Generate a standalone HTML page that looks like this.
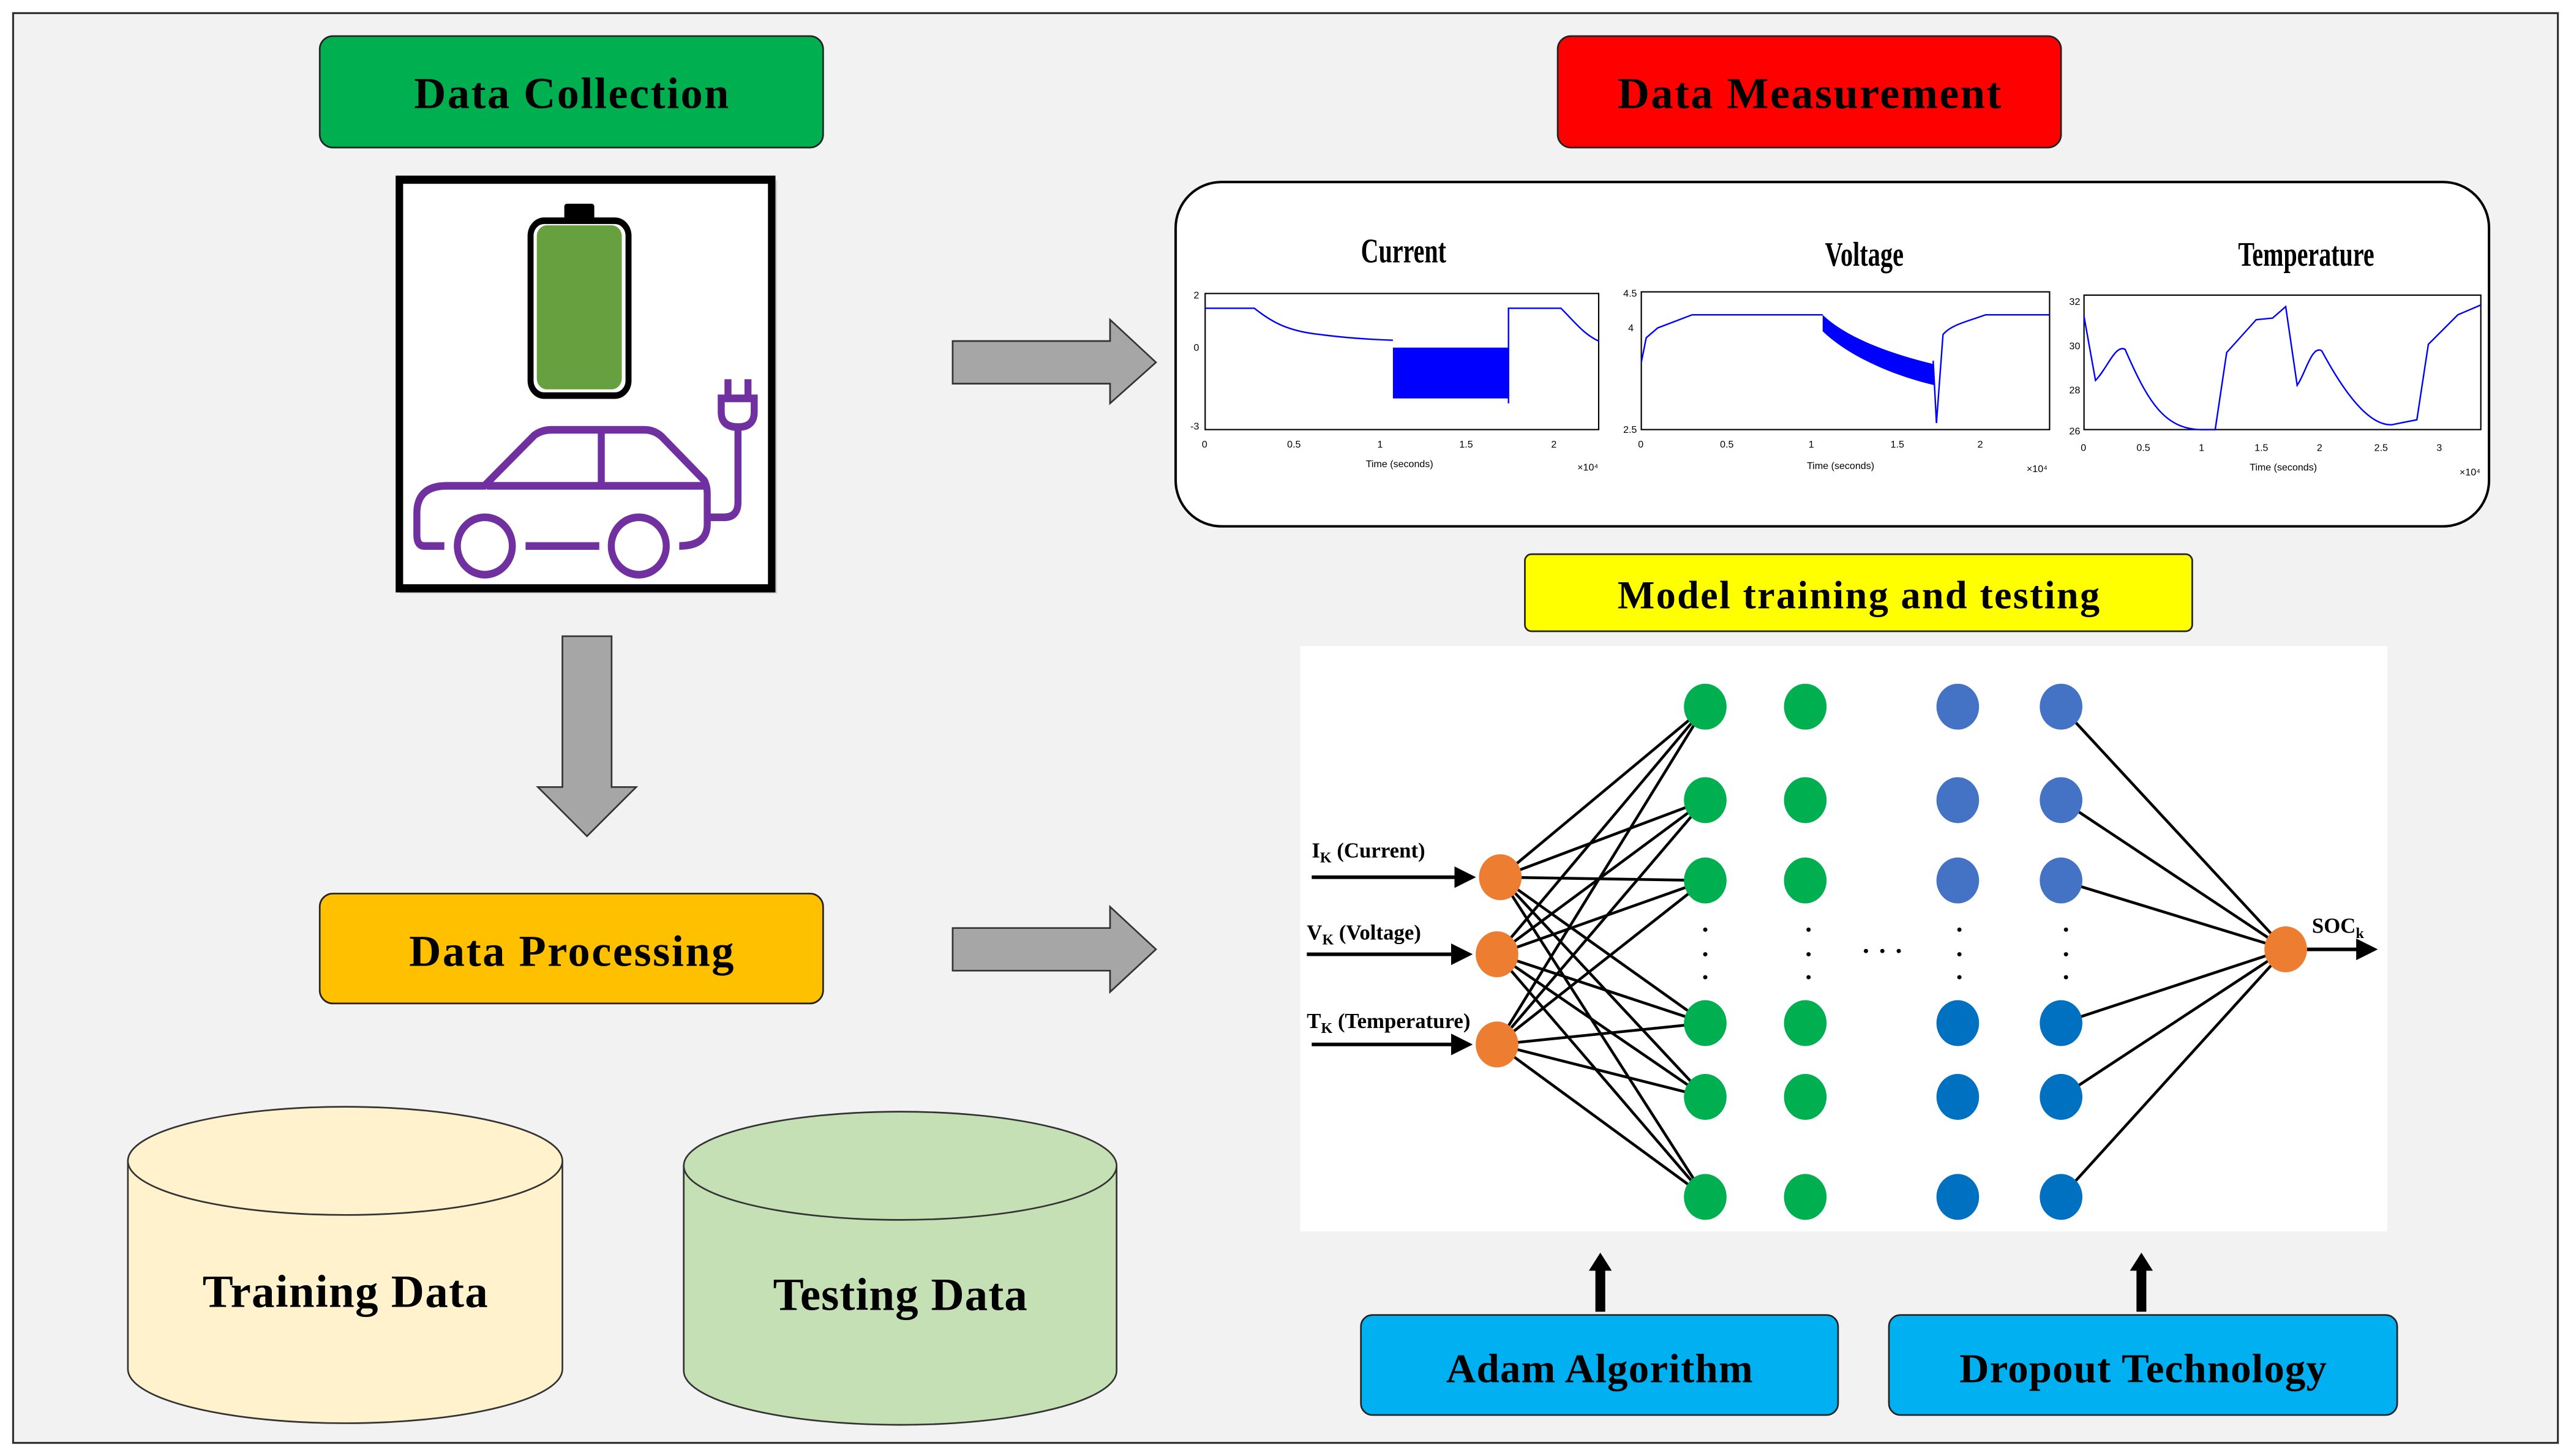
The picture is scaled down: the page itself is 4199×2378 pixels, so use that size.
<!DOCTYPE html>
<html><head><meta charset="utf-8"><style>
html,body{margin:0;padding:0;background:#fff;}
svg{display:block;}
.lbl{font-family:"Liberation Serif",serif;font-weight:bold;fill:#000;}
.tk{font-family:"Liberation Sans",sans-serif;font-size:6px;fill:#000;}
</style></head><body>
<svg width="4199" height="2378" viewBox="0 0 1568 888" preserveAspectRatio="none" xmlns="http://www.w3.org/2000/svg">
<defs>
<marker id="ah" markerWidth="6" markerHeight="6" refX="5" refY="3" orient="auto" markerUnits="strokeWidth"><path d="M0,0 L6,3 L0,6 Z" fill="#000"/></marker>
</defs>
<rect x="0" y="0" width="1568" height="888" fill="#fff"/>
<rect x="8" y="8" width="1552" height="872" fill="#f2f2f2" stroke="#333" stroke-width="1.2"/>

<rect x="195" y="22" width="307" height="68" rx="8" fill="#00b050" stroke="#222" stroke-width="1"/>
<text class="lbl" x="348.5" y="66" font-size="27" text-anchor="middle" textLength="192">Data Collection</text>
<rect x="950" y="22" width="307" height="68" rx="8" fill="#ff0000" stroke="#222" stroke-width="1"/>
<text class="lbl" x="1103.5" y="66" font-size="27" text-anchor="middle" textLength="234">Data Measurement</text>
<rect x="195" y="545" width="307" height="67" rx="8" fill="#ffc000" stroke="#222" stroke-width="1"/>
<text class="lbl" x="348.5" y="589" font-size="27" text-anchor="middle" textLength="198">Data Processing</text>
<rect x="930" y="338" width="407" height="47" rx="4" fill="#ffff00" stroke="#222" stroke-width="1"/>
<text class="lbl" x="1133.5" y="371" font-size="24" text-anchor="middle" textLength="294">Model training and testing</text>
<rect x="830" y="802" width="291" height="61" rx="7" fill="#00b0f0" stroke="#222" stroke-width="1"/>
<text class="lbl" x="975.5" y="843" font-size="25" text-anchor="middle" textLength="187">Adam Algorithm</text>
<rect x="1152" y="802" width="310" height="61" rx="7" fill="#00b0f0" stroke="#222" stroke-width="1"/>
<text class="lbl" x="1307" y="843" font-size="25" text-anchor="middle" textLength="224">Dropout Technology</text>

<rect x="244" y="110" width="230" height="252" fill="#999" opacity="0.35"/>
<g transform="translate(239,104.6) scale(0.1524,0.1667)">
<rect x="30" y="30" width="1490" height="1495" fill="#fff" stroke="#000" stroke-width="30"/>
<rect x="690" y="118" width="120" height="60" rx="10" fill="#000"/>
<rect x="555" y="180" width="392" height="640" rx="55" fill="#fff" stroke="#000" stroke-width="24"/>
<rect x="580" y="197" width="340" height="600" rx="40" fill="#66a03f"/>
<g fill="none" stroke="#7030a0" stroke-width="28" stroke-linecap="butt">
<path d="M210 1370 H130 Q100 1370 100 1330 V1250 Q100 1150 220 1150 H370 L570 965 Q600 945 640 945 H1010 Q1050 945 1080 970 L1250 1130 Q1262 1150 1262 1180 V1290 Q1262 1370 1150 1370"/>
<path d="M380 1150 H1250 M838 945 V1150 M535 1370 H830"/>
<ellipse cx="372" cy="1370" rx="110" ry="105"/>
<ellipse cx="988" cy="1370" rx="110" ry="105"/>
<path d="M1262 1265 H1330 Q1385 1265 1385 1210 V935"/>
<path d="M1318 830 V880 Q1318 935 1385 935 Q1450 935 1450 880 V830 Z M1345 760 V830 M1425 760 V830"/>
</g>
</g>

<g fill="#a6a6a6" stroke="#333" stroke-width="1">
<path d="M343 388 H373 V480 H388 L358 510 L328 480 H343 Z"/>
<path d="M581 208 H677 V195 L705 221 L677 246 V234 H581 Z"/>
<path d="M581 566 H677 V553 L705 579 L677 605 V592 H581 Z"/>
</g>
<g fill="#000">
<path d="M973 800 V775 H969 L976 764 L983 775 H979 V800 Z"/>
<path d="M1303 800 V775 H1299 L1306 764 L1313 775 H1309 V800 Z"/>
</g>

<g stroke="#333" stroke-width="1">
<path d="M78 708 V835 A132.5 33 0 0 0 343 835 V708 Z" fill="#fff2cc"/>
<ellipse cx="210.5" cy="708" rx="132.5" ry="33" fill="#fff2cc"/>
<path d="M417 711 V836 A132 33 0 0 0 681 836 V711 Z" fill="#c5e0b4"/>
<ellipse cx="549" cy="711" rx="132" ry="33" fill="#c5e0b4"/>
</g>
<text class="lbl" x="210.5" y="797" font-size="28" text-anchor="middle" textLength="174">Training Data</text>
<text class="lbl" x="549" y="799" font-size="28" text-anchor="middle" textLength="155">Testing Data</text>

<rect x="717" y="111" width="801" height="210" rx="28" fill="#fff" stroke="#000" stroke-width="1.5"/>
<g font-family="Liberation Serif,serif" font-size="21" font-weight="bold" fill="#000">
<text x="830" y="160" textLength="52" lengthAdjust="spacingAndGlyphs">Current</text>
<text x="1113" y="162" textLength="48" lengthAdjust="spacingAndGlyphs">Voltage</text>
<text x="1365" y="162" textLength="83" lengthAdjust="spacingAndGlyphs">Temperature</text>
</g>
<g fill="none" stroke="#000" stroke-width="0.8">
<rect x="735" y="179" width="240" height="83"/>
<rect x="1001" y="178" width="249" height="84"/>
<rect x="1271" y="180" width="242" height="82"/>
</g>
<g fill="none" stroke="#0000ff" stroke-width="0.9">
<path d="M735 188 H765 C775 196 785 202 805 204 C820 206 835 207 849.5 207.5 M920 246 V188 H952 C960 196 966 204 975 208"/>
<path d="M1001 221 L1004 206 L1011 200 L1032 192 H1111.6 M1179 220 L1181 258 L1185 204 C1190 198 1200 196 1211 192 H1250"/>
<path d="M1271 193 L1278 232 C1285 225 1290 210 1296 213 C1310 245 1320 262 1343 262 H1351 L1358 215 L1376 195 L1386 194 L1394 187 L1401 235 C1406 228 1410 210 1416 214 C1430 240 1445 260 1459 259 L1474 256 L1481 210 L1499 192 L1513 186"/>
</g>
<rect x="849.5" y="212" width="70.5" height="31" fill="#0000ff"/>
<path d="M1111.6 192 C1125 205 1150 215 1179 222 L1180 235 C1150 228 1125 215 1111.6 202 Z" fill="#0000ff"/>
<g class="tk">
<text x="728" y="182">2</text><text x="728" y="214">0</text><text x="726" y="262">-3</text>
<text x="733" y="273">0</text><text x="785" y="273">0.5</text><text x="840" y="273">1</text><text x="890" y="273">1.5</text><text x="946" y="273">2</text>
<text x="833" y="285">Time (seconds)</text><text x="962" y="287">×10⁴</text>
<text x="990" y="181">4.5</text><text x="993" y="202">4</text><text x="990" y="264">2.5</text>
<text x="999" y="273">0</text><text x="1049" y="273">0.5</text><text x="1103" y="273">1</text><text x="1153" y="273">1.5</text><text x="1206" y="273">2</text>
<text x="1102" y="286">Time (seconds)</text><text x="1236" y="288">×10⁴</text>
<text x="1262" y="186">32</text><text x="1262" y="213">30</text><text x="1262" y="240">28</text><text x="1262" y="265">26</text>
<text x="1269" y="275">0</text><text x="1303" y="275">0.5</text><text x="1341" y="275">1</text><text x="1375" y="275">1.5</text><text x="1413" y="275">2</text><text x="1448" y="275">2.5</text><text x="1486" y="275">3</text>
<text x="1372" y="287">Time (seconds)</text><text x="1500" y="290">×10⁴</text>
</g>

<rect x="793" y="394" width="663" height="357" fill="#fff"/>
<g stroke="#000" stroke-width="1.7">
<line x1="915" y1="535" x2="1040" y2="431"/><line x1="915" y1="535" x2="1040" y2="488"/><line x1="915" y1="535" x2="1040" y2="537"/><line x1="915" y1="535" x2="1040" y2="624"/><line x1="915" y1="535" x2="1040" y2="669"/><line x1="915" y1="535" x2="1040" y2="730"/>
<line x1="913" y1="582" x2="1040" y2="431"/><line x1="913" y1="582" x2="1040" y2="488"/><line x1="913" y1="582" x2="1040" y2="537"/><line x1="913" y1="582" x2="1040" y2="624"/><line x1="913" y1="582" x2="1040" y2="669"/><line x1="913" y1="582" x2="1040" y2="730"/>
<line x1="913" y1="637" x2="1040" y2="431"/><line x1="913" y1="637" x2="1040" y2="488"/><line x1="913" y1="637" x2="1040" y2="537"/><line x1="913" y1="637" x2="1040" y2="624"/><line x1="913" y1="637" x2="1040" y2="669"/><line x1="913" y1="637" x2="1040" y2="730"/>
<line x1="1257" y1="431" x2="1394" y2="579"/><line x1="1257" y1="488" x2="1394" y2="579"/><line x1="1257" y1="537" x2="1394" y2="579"/><line x1="1257" y1="624" x2="1394" y2="579"/><line x1="1257" y1="669" x2="1394" y2="579"/><line x1="1257" y1="730" x2="1394" y2="579"/>
<line x1="800" y1="535" x2="898" y2="535" stroke-width="2.2" marker-end="url(#ah)"/>
<line x1="797" y1="582" x2="896" y2="582" stroke-width="2.2" marker-end="url(#ah)"/>
<line x1="800" y1="637" x2="896" y2="637" stroke-width="2.2" marker-end="url(#ah)"/>
<line x1="1407" y1="579" x2="1448" y2="579" stroke-width="2.2" marker-end="url(#ah)"/>
</g>
<g fill="#ed7d31">
<ellipse cx="915" cy="535" rx="13" ry="14"/><ellipse cx="913" cy="582" rx="13" ry="14"/><ellipse cx="913" cy="637" rx="13" ry="14"/><ellipse cx="1394" cy="579" rx="13" ry="14"/>
</g>
<g fill="#00b050">
<ellipse cx="1040" cy="431" rx="13" ry="14"/><ellipse cx="1040" cy="488" rx="13" ry="14"/><ellipse cx="1040" cy="537" rx="13" ry="14"/><ellipse cx="1040" cy="624" rx="13" ry="14"/><ellipse cx="1040" cy="669" rx="13" ry="14"/><ellipse cx="1040" cy="730" rx="13" ry="14"/>
<ellipse cx="1101" cy="431" rx="13" ry="14"/><ellipse cx="1101" cy="488" rx="13" ry="14"/><ellipse cx="1101" cy="537" rx="13" ry="14"/><ellipse cx="1101" cy="624" rx="13" ry="14"/><ellipse cx="1101" cy="669" rx="13" ry="14"/><ellipse cx="1101" cy="730" rx="13" ry="14"/>
</g>
<g fill="#4472c4">
<ellipse cx="1194" cy="431" rx="13" ry="14"/><ellipse cx="1194" cy="488" rx="13" ry="14"/><ellipse cx="1194" cy="537" rx="13" ry="14"/>
<ellipse cx="1257" cy="431" rx="13" ry="14"/><ellipse cx="1257" cy="488" rx="13" ry="14"/><ellipse cx="1257" cy="537" rx="13" ry="14"/>
</g>
<g fill="#0070c0">
<ellipse cx="1194" cy="624" rx="13" ry="14"/><ellipse cx="1194" cy="669" rx="13" ry="14"/><ellipse cx="1194" cy="730" rx="13" ry="14"/>
<ellipse cx="1257" cy="624" rx="13" ry="14"/><ellipse cx="1257" cy="669" rx="13" ry="14"/><ellipse cx="1257" cy="730" rx="13" ry="14"/>
</g>
<g fill="#000">
<circle cx="1040" cy="567" r="1.3"/><circle cx="1040" cy="582" r="1.3"/><circle cx="1040" cy="596" r="1.3"/>
<circle cx="1103" cy="567" r="1.3"/><circle cx="1103" cy="582" r="1.3"/><circle cx="1103" cy="596" r="1.3"/>
<circle cx="1195" cy="567" r="1.3"/><circle cx="1195" cy="582" r="1.3"/><circle cx="1195" cy="596" r="1.3"/>
<circle cx="1260" cy="567" r="1.3"/><circle cx="1260" cy="582" r="1.3"/><circle cx="1260" cy="596" r="1.3"/>
<circle cx="1138" cy="580" r="1.3"/><circle cx="1148" cy="580" r="1.3"/><circle cx="1158" cy="580" r="1.3"/>
</g>
<g class="lbl" font-size="13">
<text x="800" y="523">I<tspan font-size="9" dy="3">K</tspan><tspan dy="-3"> (Current)</tspan></text>
<text x="797" y="573">V<tspan font-size="9" dy="3">K</tspan><tspan dy="-3"> (Voltage)</tspan></text>
<text x="797" y="627">T<tspan font-size="9" dy="3">K</tspan><tspan dy="-3"> (Temperature)</tspan></text>
<text x="1410" y="569">SOC<tspan font-size="9" dy="3">k</tspan></text>
</g>
</svg>
</body></html>
